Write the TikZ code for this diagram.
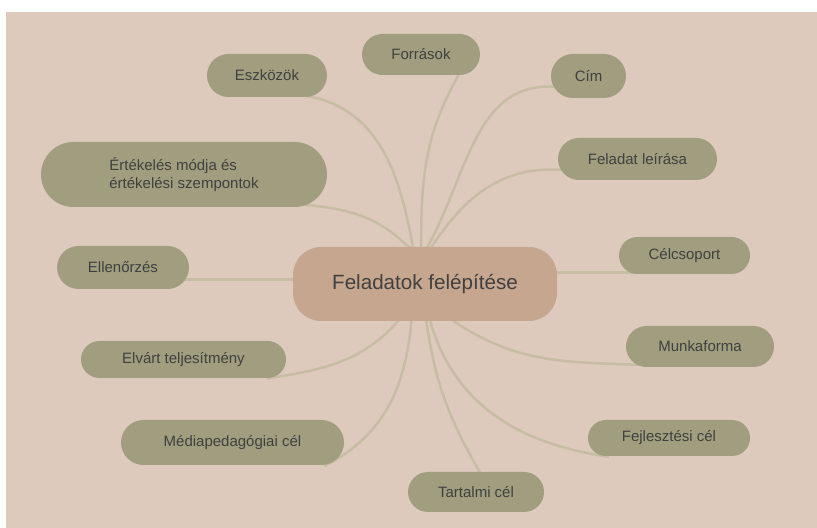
\documentclass[tikz,border=0pt]{standalone}
\usepackage{fontspec}
\setmainfont{Liberation Sans}
\usetikzlibrary{shapes.misc,backgrounds}
\definecolor{bgbeige}{HTML}{DDCABC}
\definecolor{leafgreen}{HTML}{A09E7E}
\definecolor{hubtan}{HTML}{C7A690}
\definecolor{linktan}{HTML}{C6BDA4}
\definecolor{textgray}{HTML}{404040}

\begin{document}
\begin{tikzpicture}[x=0.3mm, y=-0.3mm, line cap=round,
    leaf/.style={rounded rectangle, fill=leafgreen, text=textgray, inner sep=0pt,
        font=\fontsize{12.8}{15.5}\selectfont},
    hub/.style={rectangle, rounded corners=8.4mm, fill=hubtan, text=textgray,
        minimum width=79.2mm, minimum height=22.2mm, font=\fontsize{17.6}{21}\selectfont},
    link/.style={draw=linktan, line width=0.75mm, shorten <=-1mm, shorten >=-1mm}]
    \useasboundingbox (0,0) rectangle (817,528);

    % Central topic
    \node[hub] (hub) at (425,284) {Feladatok felépítése};

    % Upper branches
    \node[leaf, minimum width=36mm, minimum height=12.9mm] (eszkozok) at (267,75.5) {Eszközök};
    \node[leaf, minimum width=35.4mm, minimum height=12.3mm] (forrasok) at (421,54.5) {Források};
    \node[leaf, minimum width=22.5mm, minimum height=13.2mm] (cim) at (588.5,76) {Cím};
    \node[leaf, minimum width=47.7mm, minimum height=12.6mm] (leiras) at (637.5,159) {Feladat leírása};
    \node[leaf, minimum width=85.8mm, minimum height=19.5mm, align=left] (ertekeles) at (184,174.5)
        {Értékelés módja és\\értékelési szempontok};

    % Side branches
    \node[leaf, minimum width=39.6mm, minimum height=12.9mm] (ellenorzes) at (123,267.5) {Ellenőrzés};
    \node[leaf, minimum width=39.3mm, minimum height=11.1mm] (celcsoport) at (684.5,255.5) {Célcsoport};

    % Lower branches
    \node[leaf, minimum width=61.5mm, minimum height=11.1mm] (teljesitmeny) at (183.5,359.5) {Elvárt teljesítmény};
    \node[leaf, minimum width=66.9mm, minimum height=13.5mm] (mediaped) at (232.5,442.5) {Médiapedagógiai cél};
    \node[leaf, minimum width=44.4mm, minimum height=12.3mm] (munkaforma) at (700,346.5) {Munkaforma};
    \node[leaf, minimum width=48.6mm, minimum height=10.8mm] (fejlesztesi) at (669,438) {Fejlesztési cél};
    \node[leaf, minimum width=40.8mm, minimum height=12mm] (tartalmi) at (476,492) {Tartalmi cél};

    % Page and connectors behind the nodes
    \begin{pgfonlayer}{background}
        \fill[white] (0,0) rectangle (817,528);
        \fill[bgbeige] (6,12) rectangle (817,528);
        \draw[link] (ertekeles.-14) to[out=-5, in=135] (hub.114.7);
        \draw[link] (eszkozok.-26) to[out=-10, in=100] (hub.108);
        \draw[link] (forrasok.-29) to[out=-120, in=90] (hub.96.2);
        \draw[link] (cim.197) to[out=175, in=60] (hub.86.9);
        \draw[link] (leiras.188) to[out=175, in=57] (hub.80.8);
        \draw[link] (hub.178) -- (hub.178 -| ellenorzes.center);
        \draw[link] (hub.5) -- (hub.5 -| celcsoport.center);
        \draw[link] (hub.-126.1) to[out=-131, in=9] (teljesitmeny.-12);
        \draw[link] (hub.-110.7) to[out=-95, in=27] (mediaped.-13);
        \draw[link] (hub.-88.5) to[out=-82, in=120] (tartalmi.80);
        \draw[link] (hub.-82.3) to[out=-75, in=172] (fejlesztesi.196);
        \draw[link] (hub.-52.9) to[out=-35, in=178] (munkaforma.196);
    \end{pgfonlayer}
\end{tikzpicture}
\end{document}
